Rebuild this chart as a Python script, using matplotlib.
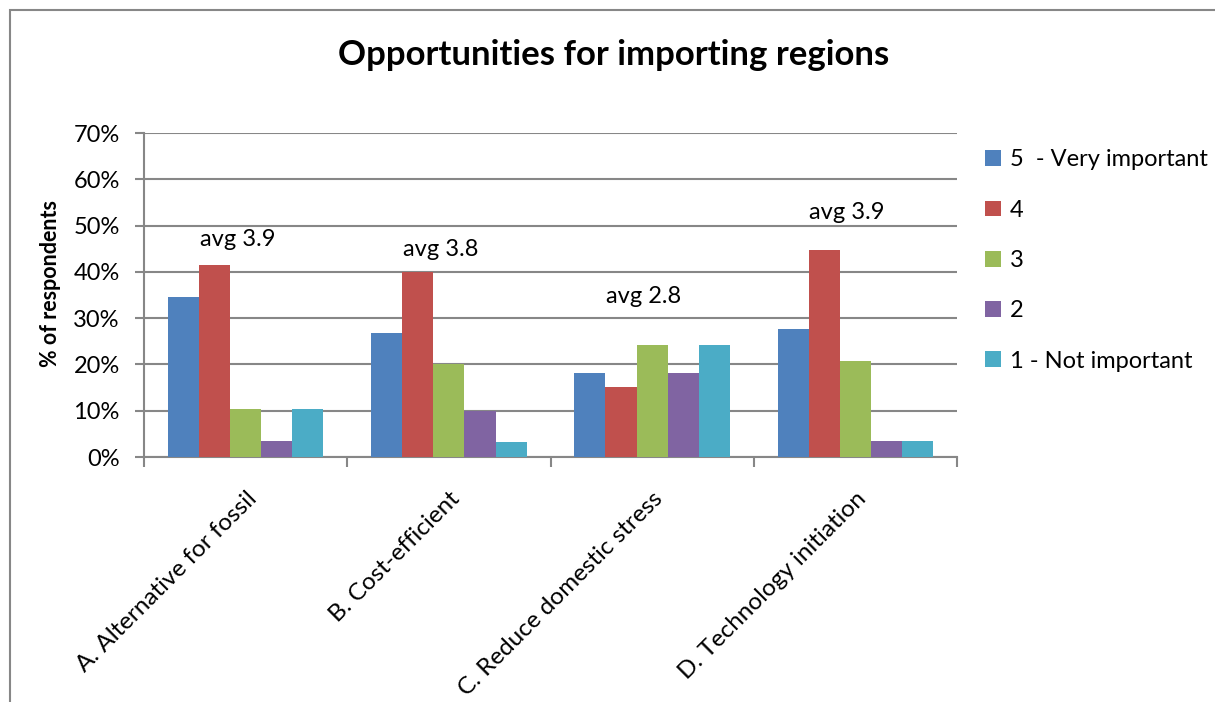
import matplotlib
matplotlib.use("Agg")
import matplotlib.pyplot as plt
from matplotlib.patches import Rectangle
from matplotlib.ticker import PercentFormatter, FixedLocator
import numpy as np

plt.rcParams['font.family'] = ['Lato', 'DejaVu Sans']

categories = ["A. Alternative for fossil", "B. Cost-efficient",
              "C. Reduce domestic stress", "D. Technology initiation"]
series_names = ["5  - Very important", "4", "3", "2", "1 - Not important"]
very_important = [34.5, 26.7, 18.2, 27.6]
score_4 = [41.4, 40.0, 15.2, 44.8]
score_3 = [10.3, 20.0, 24.2, 20.7]
score_2 = [3.4, 10.0, 18.2, 3.4]
not_important = [10.3, 3.3, 24.2, 3.4]
averages = ["avg 3.9", "avg 3.8", "avg 2.8", "avg 3.9"]
avg_label_y = [47.0, 44.8, 34.7, 52.9]

series = [very_important, score_4, score_3, score_2, not_important]
colors = ["#4F81BD", "#C0504D", "#9BBB59", "#8064A2", "#4BACC6"]
grid_color = "#878787"

fig = plt.figure(figsize=(12.15, 7.02), dpi=100)
ax = fig.add_axes([144 / 1215, 1 - 457 / 702, (957 - 144) / 1215, (457 - 133) / 702])

x = np.arange(len(categories))
bar_w = 0.153
offsets = (np.arange(len(series)) - 2) * bar_w
for vals, off, col, name in zip(series, offsets, colors, series_names):
    ax.bar(x + off, vals, width=bar_w, color=col, label=name, zorder=3)

ax.set_xlim(-0.5, len(categories) - 0.5)
ax.set_ylim(0, 70)
ax.yaxis.set_major_locator(FixedLocator(np.arange(0, 71, 10)))
ax.yaxis.set_major_formatter(PercentFormatter(decimals=0))
ax.grid(axis='y', color=grid_color, linewidth=1.5, zorder=0)

for s in ['top', 'right']:
    ax.spines[s].set_visible(False)
for s in ['left', 'bottom']:
    ax.spines[s].set_color(grid_color)
    ax.spines[s].set_linewidth(1.5)

ax.set_xticks(np.arange(-0.5, len(categories)), minor=False)
ax.set_xticklabels([])
ax.set_xticks(x, minor=True)
ax.set_xticklabels(categories, minor=True, rotation=45, ha='right', va='top',
                   rotation_mode='anchor', fontsize=17.5)
ax.tick_params(axis='x', which='major', length=7, width=1.5, color=grid_color)
ax.tick_params(axis='x', which='minor', length=0, pad=22)
ax.tick_params(axis='y', length=6.5, width=1.5, color=grid_color, labelsize=17, pad=11)

ax.set_ylabel("% of respondents", fontsize=15.5, fontweight='bold', labelpad=8)
ax.yaxis.set_label_coords(-0.102, 0.534)

for xi, txt, yv in zip(x, averages, avg_label_y):
    ax.text(xi - 0.04, yv, txt, ha='center', va='center', fontsize=17)

fig.text(614 / 1215, 1 - 55 / 702, "Opportunities for importing regions",
         ha='center', va='center', fontsize=25, fontweight='bold')

leg = ax.legend(loc='upper left', bbox_to_anchor=(976 / 1215, 1 - 140 / 702),
                bbox_transform=fig.transFigure, frameon=False, fontsize=17,
                handlelength=0.65, handleheight=0.65, handletextpad=0.4,
                labelspacing=1.24, borderaxespad=0)

fig.patches.append(Rectangle((10 / 1215, -0.1), 2, 1 - 10 / 702 + 0.1,
                             transform=fig.transFigure, fill=False,
                             edgecolor=grid_color, linewidth=1.5))

fig.savefig("out.png", dpi=100)
